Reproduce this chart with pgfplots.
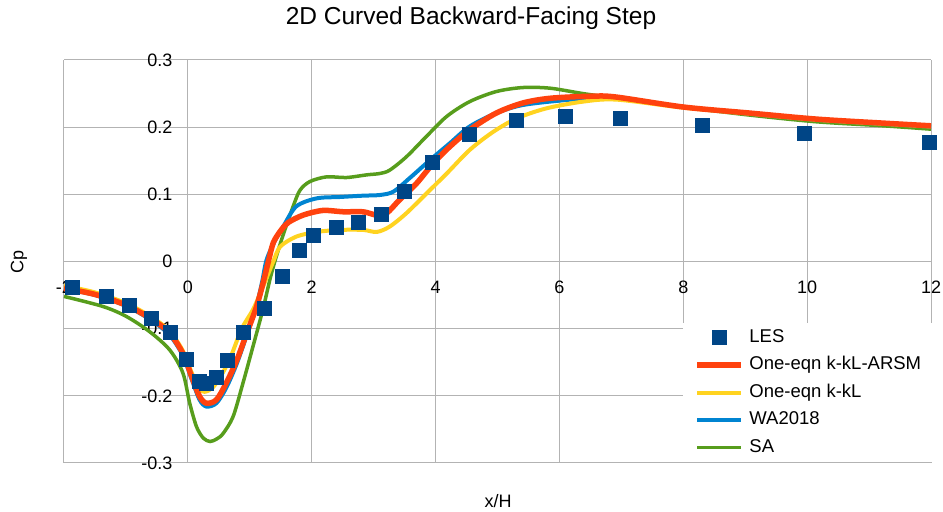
\documentclass[border=0pt]{standalone}
\usepackage{fontspec}
\setmainfont{Liberation Sans}
\usepackage{pgfplots}
\pgfplotsset{compat=1.18}
\usetikzlibrary{calc}
\definecolor{lesblue}{HTML}{004586}
\definecolor{arsm}{HTML}{FF420E}
\definecolor{kkl}{HTML}{FFD320}
\definecolor{wa}{HTML}{0084D1}
\definecolor{sa}{HTML}{579D1C}
\definecolor{gridgray}{HTML}{B3B3B3}
\begin{document}
\begin{tikzpicture}[x=1bp,y=1bp]
\begin{axis}[
  scale only axis, width=867bp, height=403bp,
  xmin=-2, xmax=12, ymin=-0.3, ymax=0.3,
  axis x line=middle, axis y line=middle,
  axis line style={-, gridgray, line width=1bp},
  grid=major, grid style={gridgray, line width=1bp},
  xtick={-2,0,2,4,6,8,10,12},
  xticklabels={-2,0,2,4,6,8,10,12},
  ytick={-0.3,-0.2,-0.1,0,0.1,0.2,0.3},
  yticklabels={-0.3,-0.2,-0.1,0,0.1,0.2,0.3},
  hide obscured x ticks=false, hide obscured y ticks=false,
  tick align=outside, major tick length=7bp,
  tick style={gridgray, line width=1bp},
  /pgf/number format/assume math mode=true,
  ticklabel style={font=\fontsize{18bp}{21bp}\selectfont, inner sep=0pt},
  xticklabel style={anchor=center, yshift=-18.5bp},
  yticklabel style={anchor=east, xshift=-8.3bp},
  clip=false,
  reverse legend,
  legend style={at={(0.7140,0.3476)}, anchor=north west, draw=none, fill=white,
    inner xsep=11bp, inner ysep=6bp, row sep=10.5bp,
    font=\fontsize{18.5bp}{22bp}\selectfont,
    nodes={inner sep=0pt, text height=13bp, text depth=4bp},
    /tikz/every odd column/.append style={column sep=5.7bp}},
  legend cell align=left,
  legend image code/.code={\draw[mark repeat=2,mark phase=2,#1] plot coordinates {(0bp,0bp) (22bp,0bp) (44bp,0bp)};},
]
\coordinate (BL) at (rel axis cs:0,0);
% SA
\addplot[sa, line width=3.5bp, smooth, tension=0.5] coordinates {
(-2,-0.052) (-1.37,-0.067) (-0.99,-0.082) (-0.61,-0.105) (-0.29,-0.132) (-0.08,-0.166)
(0.03,-0.211) (0.14,-0.246) (0.25,-0.263) (0.36,-0.268) (0.47,-0.264) (0.57,-0.256)
(0.73,-0.231) (0.89,-0.181) (1.05,-0.127) (1.21,-0.072) (1.33,-0.025) (1.42,0.005)
(1.54,0.040) (1.70,0.082) (1.81,0.106) (1.97,0.119) (2.24,0.126) (2.56,0.125)
(2.89,0.129) (3.10,0.131) (3.26,0.136) (3.53,0.156) (3.85,0.186) (4.18,0.216)
(4.55,0.238) (4.98,0.253) (5.41,0.259) (5.85,0.258) (6.38,0.250) (6.92,0.243)
(8.0,0.230) (9.07,0.218) (10.15,0.208) (11.23,0.202) (12,0.197)};
\addlegendentry{SA}
% WA2018
\addplot[wa, line width=4bp, smooth, tension=0.5] coordinates {
(-2,-0.040) (-1.5,-0.050) (-1.0,-0.066) (-0.6,-0.087) (-0.3,-0.109) (-0.08,-0.140)
(0.06,-0.175) (0.19,-0.206) (0.30,-0.216) (0.46,-0.211) (0.62,-0.188) (0.79,-0.152)
(0.95,-0.110) (1.11,-0.065) (1.20,-0.030) (1.27,0.002) (1.40,0.030) (1.54,0.052)
(1.75,0.082) (2.08,0.094) (2.45,0.096) (2.83,0.098) (3.10,0.099) (3.32,0.104)
(3.58,0.124) (3.91,0.151) (4.23,0.176) (4.55,0.201) (4.98,0.221) (5.41,0.233)
(6.06,0.240) (6.49,0.243) (6.9,0.244) (8.0,0.230) (9.07,0.220) (10.15,0.211)
(11.23,0.205) (12,0.201)};
\addlegendentry{WA2018}
% k-kL
\addplot[kkl, line width=4bp, smooth, tension=0.5] coordinates {
(-2,-0.036) (-1.5,-0.046) (-1.0,-0.062) (-0.6,-0.082) (-0.3,-0.103) (-0.08,-0.133)
(0.06,-0.165) (0.18,-0.189) (0.27,-0.194) (0.40,-0.188) (0.55,-0.168) (0.70,-0.140)
(0.87,-0.100) (1.05,-0.072) (1.18,-0.045) (1.30,-0.018) (1.38,0.000) (1.49,0.022)
(1.75,0.037) (2.08,0.044) (2.45,0.047) (2.83,0.047) (3.05,0.044) (3.26,0.052)
(3.53,0.072) (3.85,0.101) (4.18,0.131) (4.55,0.166) (4.93,0.193) (5.31,0.213)
(5.79,0.228) (6.38,0.238) (6.92,0.241) (8.0,0.229) (9.07,0.220) (10.15,0.211)
(11.23,0.205) (12,0.201)};
\addlegendentry{One-eqn k-kL}
% k-kL-ARSM
\addplot[arsm, line width=5.5bp, smooth, tension=0.5] coordinates {
(-2,-0.040) (-1.5,-0.049) (-1.0,-0.065) (-0.6,-0.085) (-0.3,-0.106) (-0.08,-0.137)
(0.06,-0.171) (0.19,-0.201) (0.30,-0.211) (0.46,-0.206) (0.62,-0.181) (0.79,-0.147)
(0.95,-0.107) (1.11,-0.067) (1.22,-0.030) (1.30,0.000) (1.38,0.028) (1.50,0.046)
(1.62,0.058) (1.86,0.069) (2.18,0.076) (2.51,0.074) (2.83,0.074) (3.05,0.069)
(3.21,0.072) (3.42,0.092) (3.69,0.116) (3.96,0.146) (4.23,0.171) (4.55,0.196)
(4.98,0.221) (5.41,0.236) (5.85,0.243) (6.49,0.246) (6.9,0.245) (8.0,0.230)
(9.07,0.221) (10.15,0.212) (11.23,0.206) (12,0.202)};
\addlegendentry{One-eqn k-kL-ARSM}
% LES
\addplot[only marks, mark=square*, mark size=7bp, mark options={fill=lesblue, draw=lesblue}] coordinates {
(-1.87,-0.039) (-1.32,-0.051) (-0.94,-0.065) (-0.60,-0.084) (-0.29,-0.106)
(-0.02,-0.145) (0.19,-0.178) (0.30,-0.181) (0.45,-0.172) (0.63,-0.147)
(0.89,-0.105) (1.24,-0.070) (1.53,-0.022) (1.79,0.017) (2.03,0.039)
(2.39,0.051) (2.75,0.059) (3.12,0.071) (3.49,0.105) (3.94,0.148)
(4.55,0.189) (5.30,0.211) (6.10,0.217) (6.98,0.213) (8.31,0.203)
(9.95,0.191) (11.97,0.178)};
\addlegendentry{LES}
\end{axis}
\coordinate (O) at ($(BL)+(-64,-49)$);
\pgfresetboundingbox
\path[use as bounding box] (O) rectangle ++(943,512);
\node[anchor=base, font=\fontsize{24.5bp}{28bp}\selectfont] at ($(O)+(471,487)$) {2D Curved Backward-Facing Step};
\node[anchor=base, font=\fontsize{18bp}{21bp}\selectfont] at ($(O)+(498,4)$) {x/H};
\node[anchor=center, rotate=90, font=\fontsize{18bp}{21bp}\selectfont] at ($(O)+(19,250.3)$) {Cp};
\end{tikzpicture}
\end{document}
